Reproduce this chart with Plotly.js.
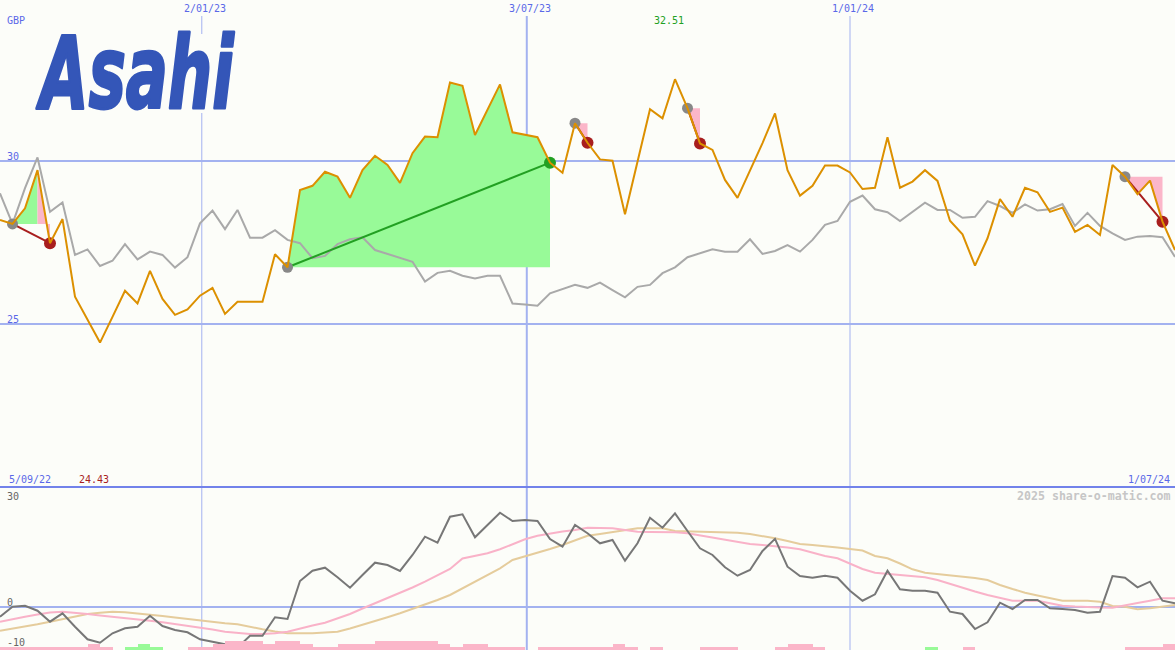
<!DOCTYPE html>
<html><head><meta charset="utf-8">
<script src="https://cdn.plot.ly/plotly-3.0.1.min.js"></script>
<style>html,body{margin:0;padding:0;background:#fcfdf9;overflow:hidden}#chart{width:1175px;height:650px}</style>
</head><body><div id="chart"></div>
<script>
// ---------- data (weekly closes, GBP) ----------
const startDate = '2022-09-09';
const price = [28.19, 28.07, 28.55, 29.72, 27.48, 28.22, 25.84, 25.13, 24.43, 25.22,
 26.02, 25.63, 26.63, 25.77, 25.28, 25.45, 25.87, 26.11, 25.31, 25.68,
 25.68, 25.68, 27.14, 26.74, 29.11, 29.24, 29.67, 29.52, 28.87, 29.72,
 30.16, 29.88, 29.33, 30.24, 30.75, 30.73, 32.41, 32.31, 30.80, 31.57,
 32.35, 30.88, 30.81, 30.73, 29.95, 29.64, 31.16, 30.56, 30.05, 30.01,
 28.37, 30.03, 31.59, 31.31, 32.51, 31.62, 30.54, 30.34, 29.42, 28.87,
 29.72, 30.55, 31.46, 29.72, 28.94, 29.24, 29.86, 29.86, 29.65, 29.14,
 29.18, 30.73, 29.18, 29.37, 29.72, 29.39, 28.17, 27.75, 26.79, 27.63,
 28.83, 28.29, 29.18, 29.04, 28.44, 28.57, 27.83, 28.04, 27.73, 29.88,
 29.52, 28.98, 29.40, 28.14, 27.27];
const benchmark = [29.01, 28.07, 29.17, 30.11, 28.44, 28.73, 27.12, 27.29, 26.78, 26.94,
 27.45, 26.98, 27.22, 27.12, 26.73, 27.05, 28.09, 28.48, 27.91, 28.50,
 27.65, 27.65, 27.88, 27.58, 27.48, 27.02, 27.09, 27.45, 27.60, 27.66,
 27.27, 27.15, 27.02, 26.91, 26.30, 26.57, 26.63, 26.48, 26.40, 26.48,
 26.48, 25.63, 25.60, 25.56, 25.94, 26.06, 26.20, 26.11, 26.27, 26.04,
 25.82, 26.14, 26.20, 26.56, 26.74, 27.05, 27.17, 27.29, 27.22, 27.22,
 27.60, 27.15, 27.24, 27.42, 27.22, 27.58, 28.04, 28.16, 28.75, 28.94,
 28.52, 28.43, 28.16, 28.43, 28.72, 28.50, 28.50, 28.26, 28.29, 28.77,
 28.62, 28.41, 28.67, 28.48, 28.52, 28.68, 28.01, 28.41, 28.01, 27.78,
 27.58, 27.68, 27.70, 27.66, 27.06];
const momentum = [-2.77, 0.09, 0.37, -1.06, -4.20, -1.80, -5.63, -9.23, -10.20, -7.51,
 -6.09, -5.63, -2.49, -5.43, -6.57, -7.23, -9.23, -9.91, -10.66, -11.63,
 -8.20, -8.20, -2.94, -3.43, 7.43, 10.37, 11.23, 8.49, 5.51, 9.14,
 12.66, 12.00, 10.29, 14.86, 20.09, 18.37, 25.80, 26.49, 19.91, 23.43,
 26.94, 24.57, 24.86, 24.57, 19.43, 17.23, 23.43, 21.06, 18.20, 19.14,
 13.23, 18.20, 25.51, 22.66, 26.77, 21.71, 16.77, 14.86, 11.34, 8.94,
 10.57, 16.00, 19.46, 11.51, 8.86, 8.37, 8.94, 8.37, 4.66, 1.80,
 3.63, 10.37, 5.06, 4.66, 4.66, 4.09, -1.34, -2.00, -6.29, -4.37,
 1.23, -0.57, 2.00, 2.00, -0.37, -0.57, -0.86, -1.63, -1.34, 8.86,
 8.37, 5.63, 7.23, 1.80, 1.06];
const momentumFast = [-4.20, -3.43, -2.77, -2.14, -1.57, -1.34, -1.57, -2.00, -2.43, -2.77,
 -3.14, -3.57, -3.91, -4.37, -4.86, -5.34, -5.80, -6.43, -7.06, -7.43,
 -7.71, -7.71, -7.51, -7.06, -6.09, -5.29, -4.49, -3.29, -2.00, -0.43,
 1.06, 2.49, 3.91, 5.57, 7.23, 9.00, 10.86, 13.86, 14.57, 15.34,
 16.49, 17.86, 19.34, 20.37, 21.06, 21.57, 22.00, 22.66, 22.57, 22.49,
 22.00, 21.51, 21.43, 21.43, 21.34, 21.06, 20.43, 19.91, 19.29, 18.57,
 18.00, 17.71, 17.43, 17.00, 16.49, 15.57, 14.57, 13.91, 12.43, 10.86,
 9.80, 9.43, 9.14, 8.86, 8.49, 7.71, 6.57, 5.51, 4.43, 3.43,
 2.57, 1.80, 1.80, 1.80, 1.06, 0.37, 0.14, -0.09, -0.14, -0.20,
 0.37, 1.14, 1.80, 2.49, 2.49];
const momentumSlow = [-6.77, -6.20, -5.63, -4.91, -4.20, -3.49, -2.77, -2.00, -1.66, -1.34,
 -1.51, -1.80, -2.20, -2.57, -3.00, -3.43, -3.91, -4.29, -4.63, -4.94,
 -5.71, -6.37, -7.00, -7.51, -7.51, -7.51, -7.29, -7.06, -6.14, -5.14,
 -4.00, -2.94, -1.80, -0.57, 0.57, 2.00, 3.43, 5.29, 7.23, 9.14,
 11.06, 13.43, 14.43, 15.43, 16.57, 17.71, 19.00, 20.37, 20.86, 21.34,
 21.91, 22.49, 22.49, 22.49, 21.71, 21.63, 21.51, 21.51, 21.51, 21.23,
 20.86, 20.29, 19.63, 18.86, 18.00, 17.71, 17.43, 17.00, 16.57, 16.14,
 14.57, 13.91, 12.43, 10.77, 9.80, 9.43, 9.14, 8.86, 8.29, 7.71,
 6.29, 5.14, 4.09, 3.29, 2.49, 1.80, 1.80, 1.80, 1.51, 0.29,
 0.09, -0.66, -0.37, 0.09, 0.57];
const barDown = [1,1,1,1,1,1,1,2,1,0, 0,0,0,0,0,1,1,2,3,3, 3,2,3,3,2,1,1,2,2,2,
 3,3,3,3,3,2,1,2,2,1, 1,1,0,1,1,1,1,1,1,2, 1,0,1,0,0,0,1,1,1,0,
 0,0,1,2,2,1,0,0,0,0, 0,0,0,0,0,0,0,1,0,0, 0,0,0,0,0,0,0,0,0,0, 1,1,1,2,0];
const barUp = [0,0,0,0,0,0,0,0,0,0, 1,2,1,0,0,0,0,0,0,0, 0,0,0,0,0,0,0,0,0,0,
 0,0,0,0,0,0,0,0,0,0, 0,0,0,0,0,0,0,0,0,0, 0,0,0,0,0,0,0,0,0,0,
 0,0,0,0,0,0,0,0,0,0, 0,0,0,0,1,0,0,0,0,0, 0,0,0,0,0,0,0,0,0,0, 0,0,0,0,0];
const tradeEntry = [1, 23, 46, 55, 90];
const tradeExit  = [4, 44, 47, 56, 93];
const gridDates  = ['2022-12-31', '2023-07-01', '2023-12-29'];
const gridLabels = ['2/01/23', '3/07/23', '1/01/24'];
const firstLabel = '5/09/22', lastLabel = '1/07/24';

// ---------- helpers ----------
function weekDates(start, n){const t0=Date.parse(start+'T00:00:00Z');const o=[];for(let i=0;i<n;i++)o.push(new Date(t0+i*7*864e5).toISOString().slice(0,10));return o;}
const dates = weekDates(startDate, price.length);
const W = 1175, H = 650;
const px = x => x / W, py = y => 1 - y / H;
const split = 1 - 487 / H;
const BG = '#fcfdf9', GRID = '#a3b2f0', BLUE = '#5a68e8';
const GREEN_FILL = '#98fa98', PINK_FILL = '#fbb6c9';

// trade shading (between price and entry level)
const upX=[],upY=[],dnX=[],dnY=[];
for(let t=0;t<tradeEntry.length;t++){
  const a=tradeEntry[t], b=tradeExit[t], E=price[a];
  let k=a;
  while(k<b){
    const up = price[k+1]>=E; let e=k+1;
    while(e<b && (price[e+1]>=E)===up) e++;
    const X=[dates[k]],Y=[E];
    for(let j=k;j<=e;j++){X.push(dates[j]);Y.push(price[j]);}
    X.push(dates[e]);Y.push(E);
    const tx=up?upX:dnX, ty=up?upY:dnY;
    tx.push(...X,null); ty.push(...Y,null);
    k=e;
  }
}
const winLX=[],winLY=[],lossLX=[],lossLY=[],exitCol=[];
for(let t=0;t<tradeEntry.length;t++){
  const a=tradeEntry[t], b=tradeExit[t], win=price[b]>price[a];
  (win?winLX:lossLX).push(dates[a],dates[b],null);
  (win?winLY:lossLY).push(price[a],price[b],null);
  exitCol.push(win?'#22a022':'#a81e1e');
}

const traces = [
  {x:dates,y:barDown,type:'bar',yaxis:'y3',offset:0,width:7*864e5,marker:{color:PINK_FILL,line:{width:0}},hoverinfo:'skip'},
  {x:dates,y:barUp,type:'bar',yaxis:'y3',offset:0,width:7*864e5,marker:{color:GREEN_FILL,line:{width:0}},hoverinfo:'skip'},
  {x:dates,y:momentumSlow,yaxis:'y2',mode:'lines',line:{color:'#e5cc9c',width:2}},
  {x:dates,y:momentumFast,yaxis:'y2',mode:'lines',line:{color:'#f9b2c8',width:2}},
  {x:dates,y:momentum,yaxis:'y2',mode:'lines',line:{color:'#777777',width:2}},
  {x:upX,y:upY,mode:'lines',fill:'toself',fillcolor:GREEN_FILL,line:{width:0},hoverinfo:'skip'},
  {x:dnX,y:dnY,mode:'lines',fill:'toself',fillcolor:PINK_FILL,line:{width:0},hoverinfo:'skip'},
  {x:dates,y:benchmark,mode:'lines',line:{color:'#a9a9a9',width:2}},
  {x:winLX,y:winLY,mode:'lines',line:{color:'#22a022',width:2}},
  {x:lossLX,y:lossLY,mode:'lines',line:{color:'#a81e1e',width:2}},
  {x:tradeEntry.map(i=>dates[i]),y:tradeEntry.map(i=>price[i]),mode:'markers',marker:{color:'#888888',size:11}},
  {x:tradeExit.map(i=>dates[i]),y:tradeExit.map(i=>price[i]),mode:'markers',marker:{color:exitCol,size:12}},
  {x:dates,y:price,mode:'lines',line:{color:'#dc9000',width:2}}
];

const vline=(d,y0,y1,w)=>({type:'line',xref:'x',yref:'paper',x0:d,x1:d,y0:py(y1),y1:py(y0),line:{color:GRID,width:w},layer:'below'});
const shapes = [
  {type:'line',xref:'paper',yref:'y',x0:0,x1:1,y0:30,y1:30,line:{color:GRID,width:2},layer:'below'},
  {type:'line',xref:'paper',yref:'y',x0:0,x1:1,y0:25,y1:25,line:{color:GRID,width:2},layer:'below'},
  {type:'line',xref:'paper',yref:'y2',x0:0,x1:1,y0:0,y1:0,line:{color:GRID,width:2},layer:'below'},
  vline(gridDates[0],16,34,1), vline(gridDates[0],113,650,1),
  vline(gridDates[1],16,650,2),
  vline(gridDates[2],16,650,1),
  {type:'line',xref:'paper',yref:'paper',x0:0,x1:1,y0:split,y1:split,line:{color:'#7282ea',width:2},layer:'below'}
];

const mono='DejaVu Sans Mono, monospace';
const lab=(text,x,y,color,anchor,extra)=>Object.assign({xref:'paper',yref:'paper',x:px(x),y:py(y),text,showarrow:false,xanchor:anchor||'left',yanchor:'middle',font:{family:mono,size:10,color}},extra||{});
const iMax = price.indexOf(Math.max(...price)), iMin = price.indexOf(Math.min(...price));
const LOGO_INDEX = 11;
const annotations = [
  lab('GBP',5,20,BLUE),
  lab('30',5,156,BLUE),
  lab('25',5,319,BLUE),
  lab(firstLabel,7,479,BLUE),
  lab(lastLabel,1172,479,BLUE,'right'),
  lab('2025 share-o-matic.com',1173,496,'#c6c6c6','right',{font:{family:mono,size:11.6,color:'#c6c6c6',weight:'bold'}}),
  lab('30',5,496,'#666666'),
  lab('0',5,602,'#666666'),
  lab('-10',5,642,'#666666'),
  {xref:'x',yref:'paper',x:dates[iMax],y:py(21),xshift:-6,text:price[iMax].toFixed(2),showarrow:false,xanchor:'center',yanchor:'middle',font:{family:mono,size:10,color:'#22a022'}},
  {xref:'x',yref:'paper',x:dates[iMin],y:py(479),xshift:-6,text:price[iMin].toFixed(2),showarrow:false,xanchor:'center',yanchor:'middle',font:{family:mono,size:10,color:'#a81e1e'}},
  {xref:'paper',yref:'paper',x:px(135),y:py(74),text:'Asahi',showarrow:false,xanchor:'center',yanchor:'middle',
   font:{family:'DejaVu Sans, sans-serif',size:100,color:'#3456b8',weight:'bold',style:'italic'}}
];
gridDates.forEach((d,i)=>annotations.push({xref:'x',yref:'paper',x:d,y:py(8),xshift:3,text:gridLabels[i],showarrow:false,xanchor:'center',yanchor:'middle',font:{family:mono,size:10,color:BLUE}}));

const layout = {
  width:W,height:H,margin:{l:0,r:0,t:0,b:0,pad:0},
  paper_bgcolor:BG,plot_bgcolor:BG,showlegend:false,barmode:'overlay',bargap:0,
  xaxis:{type:'date',range:[dates[0],dates[dates.length-1]],visible:false,fixedrange:true},
  yaxis:{domain:[split,1],range:[20,34.94],visible:false,fixedrange:true},
  yaxis2:{domain:[0,split],range:[-12.286,34.286],visible:false,fixedrange:true},
  yaxis3:{overlaying:'y2',range:[0,54.33],visible:false,fixedrange:true},
  shapes,annotations
};
Plotly.newPlot('chart',traces,layout,{staticPlot:true,displayModeBar:false}).then(gd=>{
  // condense the logo word horizontally, like the brand lettering
  const g = gd.querySelector('.annotation[data-index="'+LOGO_INDEX+'"] .annotation-text-g');
  if(!g) return;
  const bb = g.getBBox();
  const cx = 135.5, cy = bb.y + bb.height/2;
  const sx = 201 / bb.width * 1.0;
  g.setAttribute('transform','translate('+cx+','+cy+') scale('+Math.min(sx,0.75).toFixed(3)+',1) translate('+(-(bb.x+bb.width/2))+','+(-cy)+')');
  const t = g.querySelector('text');
  if(t){ t.style.stroke='#3456b8'; t.style.strokeWidth='3px'; t.style.strokeLinejoin='round'; }
});
</script></body></html>
